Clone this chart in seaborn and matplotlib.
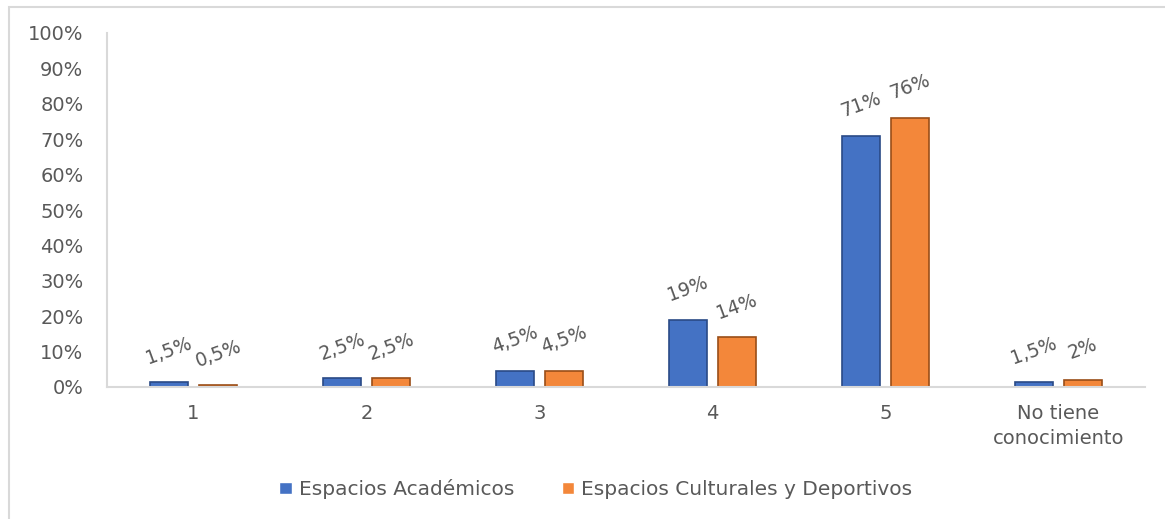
import pandas as pd
import matplotlib.pyplot as plt
import seaborn as sns
from matplotlib.patches import Rectangle

# Datos
categorias = ['1', '2', '3', '4', '5', 'No tiene\nconocimiento']
series = ['Espacios Académicos', 'Espacios Culturales y Deportivos']
academicos = [1.5, 2.5, 4.5, 19, 71, 1.5]
culturales = [0.5, 2.5, 4.5, 14, 76, 2]
colores = ['#4472C4', '#F3873A']
bordes = ['#2A4A86', '#9A4E18']

df = pd.DataFrame({
    'categoria': categorias * 2,
    'serie': [series[0]] * len(categorias) + [series[1]] * len(categorias),
    'valor': academicos + culturales,
})

sns.set_theme(style='white')
plt.rcParams['font.family'] = ['DejaVu Sans']
gris = '#595959'

fig = plt.figure(figsize=(11.65, 5.19), dpi=100)
W, H = 1165, 519
ax = fig.add_axes([107 / W, 1 - 387 / H, 1038 / W, 354 / H])

sns.barplot(data=df, x='categoria', y='valor', hue='serie', palette=colores,
            saturation=1, width=0.568, gap=0.225, ax=ax)

# bordes oscuros para imitar el biselado
for cont, borde in zip(ax.containers, bordes):
    for bar in cont:
        bar.set_edgecolor(borde)
        bar.set_linewidth(1.2)

# etiquetas de datos
for cont, vals in zip(ax.containers, [academicos, culturales]):
    for bar, v in zip(cont, vals):
        txt = f"{v:g}".replace('.', ',') + '%'
        ax.annotate(txt, (bar.get_x() + bar.get_width() / 2, bar.get_height()),
                    xytext=(0, 31), textcoords='offset pixels', rotation=20,
                    ha='center', va='center', fontsize=13.5, color=gris)

ax.set_xlim(-0.5, len(categorias) - 0.5)
ax.set_ylim(0, 100)
ticks = list(range(0, 101, 10))
ax.set_yticks(ticks)
ax.set_yticklabels([f'{t}%' for t in ticks])
ax.set_xlabel('')
ax.set_ylabel('')
ax.tick_params(axis='y', length=0, labelsize=14, colors=gris, pad=17)
ax.tick_params(axis='x', length=0, labelsize=14, colors=gris, pad=12)
for lbl in ax.get_xticklabels():
    lbl.set_linespacing(1.4)

for s in ['top', 'right']:
    ax.spines[s].set_visible(False)
for s in ['left', 'bottom']:
    ax.spines[s].set_color('#D9D9D9')
    ax.spines[s].set_linewidth(1.5)

# leyenda abajo
handles, labels = ax.get_legend_handles_labels()
ax.get_legend().remove()
fig.legend(handles, labels, loc='center', bbox_to_anchor=(596 / W, 1 - 489 / H),
           ncol=2, frameon=False, fontsize=14.5, labelcolor=gris,
           handlelength=0.6, handleheight=0.6, handletextpad=0.35,
           columnspacing=2.4)

# marco del area del grafico
fig.patches.append(Rectangle((9 / W, -0.05), 1.1, 1 - 7 / H + 0.05,
                             transform=fig.transFigure, fill=False,
                             edgecolor='#D9D9D9', linewidth=1.5))

fig.savefig('out.png', dpi=100)
